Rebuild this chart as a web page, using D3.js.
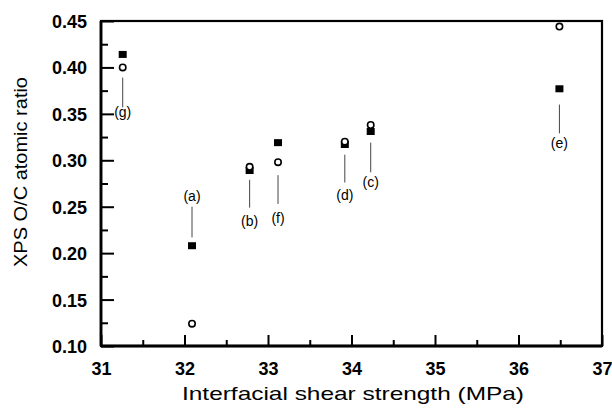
<!DOCTYPE html>
<html>
<head>
<meta charset="utf-8">
<script src="https://cdn.jsdelivr.net/npm/d3@7"></script>
<style>
  body { margin: 0; background: #fff; }
  svg { display: block; font-family: "Liberation Sans", Arial, sans-serif; }
</style>
</head>
<body>
<div id="chart"></div>
<script>
// samples (a)-(g): interfacial shear strength vs XPS O/C ratio
const samples = ["a", "b", "c", "d", "e", "f", "g"];
const shear = [32.09, 32.78, 34.23, 33.92, 36.49, 33.12, 31.26];
const ocSquare = [0.208, 0.289, 0.331, 0.317, 0.377, 0.319, 0.414];
const ocCircle = [0.124, 0.293, 0.338, 0.320, 0.444, 0.298, 0.400];

// annotation leader lines and label levels (in O/C units)
const leadTop = [0.250, 0.279, 0.319, 0.306, 0.360, 0.284, 0.389];
const leadBottom = [0.217, 0.249, 0.287, 0.276, 0.329, 0.253, 0.357];
const labelY = [0.261, 0.235, 0.277, 0.263, 0.319, 0.238, 0.352];

const xTicks = [31, 32, 33, 34, 35, 36, 37];
const xMinor = [31.5, 32.5, 33.5, 34.5, 35.5, 36.5];
const yTicks = [0.10, 0.15, 0.20, 0.25, 0.30, 0.35, 0.40, 0.45];
const yMinor = [0.125, 0.175, 0.225, 0.275, 0.325, 0.375, 0.425];

const width = 612, height = 410;
const margin = { top: 21, right: 10, bottom: 64, left: 101 };
const iw = width - margin.left - margin.right;
const ih = height - margin.top - margin.bottom;

const svg = d3.select("#chart").append("svg")
    .attr("width", width)
    .attr("height", height);

const g = svg.append("g")
    .attr("transform", `translate(${margin.left},${margin.top})`);

const x = d3.scaleLinear().domain([31, 37]).range([0, iw]);
const y = d3.scaleLinear().domain([0.10, 0.45]).range([ih, 0]);

// major ticks (inward) with labels
const xAxis = g.append("g")
    .attr("transform", `translate(0,${ih})`)
    .call(d3.axisBottom(x).tickValues(xTicks).tickFormat(d3.format("d"))
        .tickSizeInner(-11).tickSizeOuter(0).tickPadding(16));
const yAxis = g.append("g")
    .call(d3.axisLeft(y).tickValues(yTicks).tickFormat(d3.format(".2f"))
        .tickSizeInner(-13).tickSizeOuter(0).tickPadding(14));

// minor ticks
g.append("g")
    .attr("transform", `translate(0,${ih})`)
    .call(d3.axisBottom(x).tickValues(xMinor).tickFormat("").tickSizeInner(-6).tickSizeOuter(0));
g.append("g")
    .call(d3.axisLeft(y).tickValues(yMinor).tickFormat("").tickSizeInner(-7).tickSizeOuter(0));

g.selectAll(".domain").remove();
g.selectAll(".tick line").attr("stroke", "#000").attr("stroke-width", 2);
g.selectAll(".tick text")
    .attr("fill", "#000")
    .style("font-size", "18px")
    .style("font-weight", "bold");
yAxis.selectAll(".tick text").attr("dy", "0.36em");

// frame
g.append("rect")
    .attr("width", iw).attr("height", ih)
    .attr("fill", "none").attr("stroke", "#000").attr("stroke-width", 2.2);
g.append("line").attr("x1", 0).attr("x2", 0).attr("y1", 0).attr("y2", ih)
    .attr("stroke", "#000").attr("stroke-width", 2.8);
g.append("line").attr("x1", 0).attr("x2", iw).attr("y1", ih).attr("y2", ih)
    .attr("stroke", "#000").attr("stroke-width", 2.8);

// leader lines and labels
const idx = d3.range(samples.length);
g.selectAll(".lead").data(idx).enter().append("line")
    .attr("class", "lead")
    .attr("x1", i => x(shear[i])).attr("x2", i => x(shear[i]))
    .attr("y1", i => y(leadTop[i])).attr("y2", i => y(leadBottom[i]))
    .attr("stroke", "#444").attr("stroke-width", 1);

g.selectAll(".lab").data(idx).enter().append("text")
    .attr("class", "lab")
    .attr("x", i => x(shear[i]))
    .attr("y", i => y(labelY[i]))
    .attr("dy", "0.35em")
    .attr("text-anchor", "middle")
    .style("font-size", "14px")
    .text(i => `(${samples[i]})`);

// markers
g.selectAll(".sq").data(idx).enter().append("rect")
    .attr("class", "sq")
    .attr("x", i => x(shear[i]) - 4)
    .attr("y", i => y(ocSquare[i]) - 3.5)
    .attr("width", 8).attr("height", 7)
    .attr("fill", "#000");

g.selectAll(".ci").data(idx).enter().append("circle")
    .attr("class", "ci")
    .attr("cx", i => x(shear[i]))
    .attr("cy", i => y(ocCircle[i]))
    .attr("r", 3.2)
    .attr("fill", "#fff")
    .attr("stroke", "#000").attr("stroke-width", 1.6);

// axis titles
svg.append("text")
    .attr("x", 353)
    .attr("y", 400)
    .attr("text-anchor", "middle")
    .attr("textLength", 342)
    .attr("lengthAdjust", "spacingAndGlyphs")
    .style("font-size", "19px")
    .text("Interfacial shear strength (MPa)");

svg.append("text")
    .attr("transform", "translate(27,172) rotate(-90)")
    .attr("text-anchor", "middle")
    .attr("textLength", 190)
    .attr("lengthAdjust", "spacingAndGlyphs")
    .style("font-size", "19px")
    .text("XPS O/C atomic ratio");
</script>
</body>
</html>
